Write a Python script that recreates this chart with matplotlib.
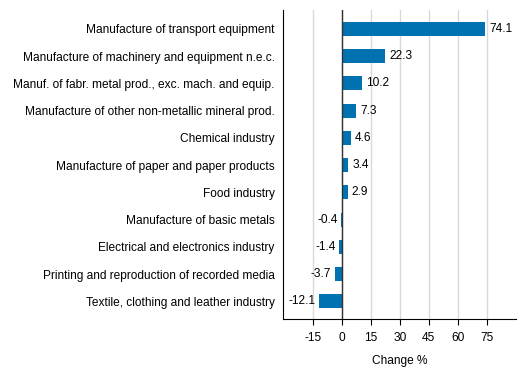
import matplotlib
matplotlib.use("Agg")
import matplotlib.pyplot as plt

categories = [
    "Manufacture of transport equipment",
    "Manufacture of machinery and equipment n.e.c.",
    "Manuf. of fabr. metal prod., exc. mach. and equip.",
    "Manufacture of other non-metallic mineral prod.",
    "Chemical industry",
    "Manufacture of paper and paper products",
    "Food industry",
    "Manufacture of basic metals",
    "Electrical and electronics industry",
    "Printing and reproduction of recorded media",
    "Textile, clothing and leather industry",
]
values = [74.1, 22.3, 10.2, 7.3, 4.6, 3.4, 2.9, -0.4, -1.4, -3.7, -12.1]
xticks = [-15, 0, 15, 30, 45, 60, 75]

plt.rcParams['font.family'] = ['Liberation Sans', 'DejaVu Sans']
plt.rcParams['font.size'] = 8.6

fig = plt.figure(figsize=(5.29, 3.78), dpi=100)
ax = fig.add_axes([0.535, 0.156, 0.44, 0.818])

y = list(range(len(categories)))
ax.barh(y, values, height=0.52, color="#0072B2", zorder=3)
for yi, v in zip(y, values):
    if v >= 0:
        ax.text(v + 2.2, yi, f"{v:.1f}", va="center", ha="left")
    else:
        ax.text(v - 1.8, yi, f"{v:.1f}", va="center", ha="right")

ax.set_yticks(y)
ax.set_yticklabels(categories)
ax.set_ylim(len(categories) - 0.35, -0.7)
ax.set_xlim(-30.5, 90)
ax.set_xticks(xticks)
ax.set_xticklabels([str(t) for t in xticks])
ax.xaxis.grid(True, color="#d9d9d9", linewidth=1, zorder=0)
ax.axvline(0, color="#333333", linewidth=1, zorder=4)
ax.tick_params(axis="y", length=0, pad=6)
ax.tick_params(axis="x", length=4, color="black", pad=5)
for s in ["top", "right"]:
    ax.spines[s].set_visible(False)
ax.spines["left"].set_color("black")
ax.spines["bottom"].set_color("black")
ax.set_xlabel("Change %", labelpad=8)

fig.savefig("out.png", dpi=100)
